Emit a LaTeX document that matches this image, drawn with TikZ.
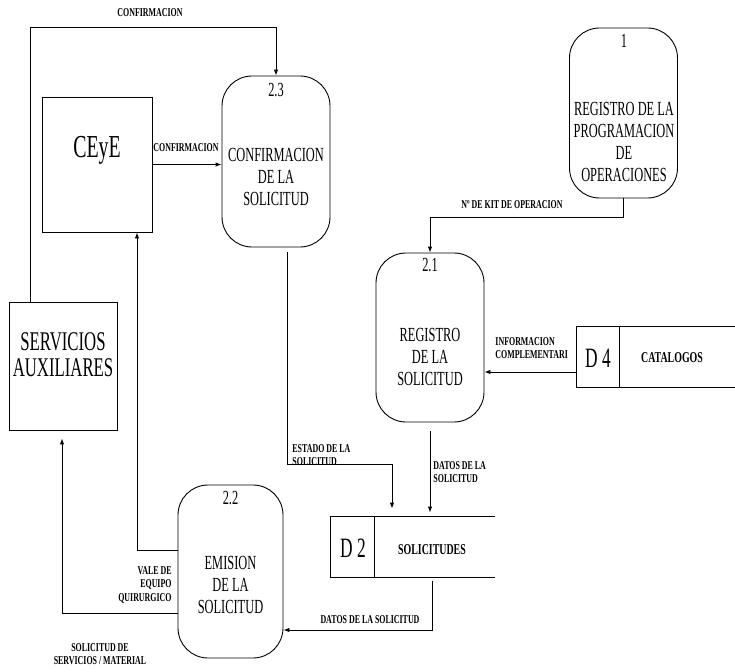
\documentclass[tikz,border=0pt]{standalone}
\usepackage{fontspec}
\setmainfont{Liberation Serif}
\newfontfamily\narrowfont[FakeStretch=0.62]{Liberation Serif}
\newfontfamily\labelfont[FakeStretch=0.66]{Liberation Serif}
\usetikzlibrary{arrows.meta,calc}

\begin{document}
\begin{tikzpicture}[x=1pt,y=-1pt,
  line width=0.9pt,
  proc/.style={draw, rounded corners=30pt, minimum width=108pt, minimum height=170pt, inner sep=0pt},
  ent/.style={draw, inner sep=0pt},
  ptext/.style={font=\narrowfont\fontsize{20}{22}\selectfont, align=center, inner sep=0pt},
  pnum/.style={font=\narrowfont\fontsize{20}{22}\selectfont, inner sep=0pt},
  etext/.style={font=\narrowfont\fontsize{27}{26}\selectfont, align=center, inner sep=0pt},
  flowlbl/.style={font=\labelfont\bfseries\fontsize{12}{13.5}\selectfont, inner sep=0pt},
  flow/.style={-{Latex[length=6pt,width=4.5pt]}},
]
\useasboundingbox (0,0) rectangle (735,671);

% processes
\node[proc] (p1) at (623.5,113) {};
\node[pnum] (p1n) at (624,41) {1};
\node[ptext] (p1t) at (624,142) {REGISTRO DE LA\\PROGRAMACION\\DE\\OPERACIONES};

\node[proc, minimum height=171pt] (p23) at (276,161.5) {};
\node[pnum] (p23n) at (276,90) {2.3};
\node[ptext] (p23t) at (276,177) {CONFIRMACION\\DE LA\\SOLICITUD};

\node[proc, minimum height=169pt] (p21) at (430,337.5) {};
\node[pnum] (p21n) at (430,265) {2.1};
\node[ptext] (p21t) at (430,357) {REGISTRO\\DE LA\\SOLICITUD};

\node[proc, minimum width=105pt, minimum height=173pt] (p22) at (230.5,571.5) {};
\node[pnum] (p22n) at (230.5,498) {2.2};
\node[ptext] (p22t) at (230.5,585) {EMISION\\DE LA\\SOLICITUD};

% external entities
\node[ent, minimum width=110pt, minimum height=135pt] (ceye) at (97,164.5) {};
\node[etext, font=\narrowfont\fontsize{32}{32}\selectfont] (ceyet) at (97,150) {CEyE};

\node[ent, minimum width=108pt, minimum height=128pt] (serv) at (63,366) {};
\node[etext] (servt) at (63,355) {SERVICIOS\\AUXILIARES};

% data stores (open on the right)
\node[minimum width=160pt, minimum height=60pt, inner sep=0pt] (d4) at (657,357) {};
\draw (d4.north east) -- (d4.north west) -- (d4.south west) -- (d4.south east);
\draw ($(d4.north west)+(43,0)$) -- ($(d4.south west)+(43,0)$);
\node[etext, font=\narrowfont\fontsize{28}{28}\selectfont] (d4id) at (598,358) {D 4};
\node[flowlbl, font=\labelfont\bfseries\fontsize{15}{16}\selectfont] (d4t) at (672,358) {CATALOGOS};

\node[minimum width=164pt, minimum height=60pt, inner sep=0pt] (d2) at (413,547) {};
\draw (d2.north east) -- (d2.north west) -- (d2.south west) -- (d2.south east);
\draw ($(d2.north west)+(44,0)$) -- ($(d2.south west)+(44,0)$);
\node[etext, font=\narrowfont\fontsize{28}{28}\selectfont] (d2id) at (353,548) {D 2};
\node[flowlbl, font=\labelfont\bfseries\fontsize{15}{16}\selectfont] (d2t) at (432,550) {SOLICITUDES};

% bend points
\coordinate (toprun) at (30,27);
\coordinate (e1) at (287,464);
\coordinate (e2) at (392,464);
\coordinate (dd) at (432,630);
\coordinate (vale) at (137,550);
\coordinate (sol) at (62,613);

% flows
\draw[flow] (serv.north -| toprun) -- (toprun) -| (p23.north);
\draw[flow] (ceye.east) -- (ceye.east -| p23.west);
\draw[flow] (p1.south) -- ++(0,19) -| (p21.north);
\draw[flow] ($(d4.west)+(0,15)$) -- ($(d4.west -| p21.east)+(0,15)$);
\draw[flow, shorten >=8pt] ([yshift=-5pt]p23.south -| e1) -- (e1) -- (e2) -- (d2.north -| e2);
\draw[flow, shorten >=4pt] ([yshift=-9pt]p21.south) -- (d2.north -| p21.south);
\draw[flow] ([yshift=-4pt]d2.south -| dd) -- (dd) -- (dd -| p22.east);
\draw[flow] (p22.west |- vale) -- (vale) -- (vale |- ceye.south);
\draw[flow, shorten >=8pt] (p22.west |- sol) -- (sol) -- (sol |- serv.south);

% flow labels
\node[flowlbl] (l1) at (150,13) {CONFIRMACION};
\node[flowlbl] (l2) at (186,148) {CONFIRMACION};
\node[flowlbl] (l3) at (512,205) {Nº DE KIT DE OPERACION};
\node[flowlbl, align=left, anchor=west] (l4) at (495,348) {INFORMACION\\COMPLEMENTARI};
\node[flowlbl, align=left, anchor=west] (l5) at (292,455) {ESTADO DE LA\\SOLICITUD};
\node[flowlbl, align=left, anchor=west] (l6) at (433,472) {DATOS DE LA\\SOLICITUD};
\node[flowlbl] (l7) at (370,620) {DATOS DE LA SOLICITUD};
\node[flowlbl, align=right, anchor=east] (l8) at (172,585) {VALE DE\\EQUIPO\\QUIRURGICO};
\node[flowlbl, align=center] (l9) at (100,654) {SOLICITUD DE\\SERVICIOS / MATERIAL};
\end{tikzpicture}
\end{document}
